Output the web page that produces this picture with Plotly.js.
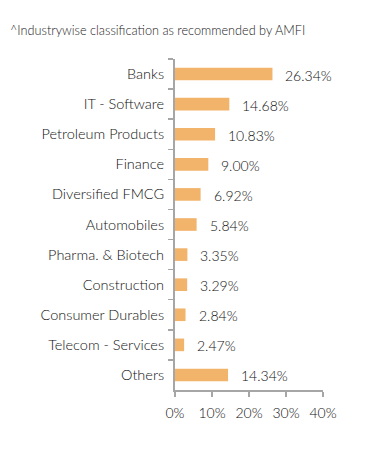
<!DOCTYPE html>
<html>
<head>
<meta charset="utf-8">
<script src="https://cdn.plot.ly/plotly-3.0.1.min.js"></script>
<style>html,body{margin:0;padding:0;background:#fff;}#chart{width:391px;height:461px;}</style>
</head>
<body>
<div id="chart"></div>
<script>
const categories = ["Banks","IT - Software","Petroleum Products","Finance","Diversified FMCG","Automobiles","Pharma. & Biotech","Construction","Consumer Durables","Telecom - Services","Others"];
const values = [26.34,14.68,10.83,9.00,6.92,5.84,3.35,3.29,2.84,2.47,14.34];
const xTickVals = [0,10,20,30,40];
const xTickText = ["0%","10%","20%","30%","40%"];
const noteText = "^Industrywise classification as recommended by AMFI";

const fontFam = "Lato, 'Open Sans', sans-serif";
const txtColor = "#111";
const trace = {
  type: "bar", orientation: "h",
  x: values, y: categories,
  marker: {color: "#F2B36B"},
  width: 0.42,
  hoverinfo: "none"
};
const annotations = values.map((v,i)=>({
  x: v, y: categories[i], xref: "x", yref: "y",
  text: v.toFixed(2) + "%", showarrow: false,
  xanchor: "left", xshift: 11, yshift: -1,
  font: {family: fontFam, size: 14, color: txtColor, weight: 300}
}));
annotations.push({
  text: noteText, xref: "paper", yref: "paper", x: -167/148, y: 1 + 29/331,
  xanchor: "left", yanchor: "middle", showarrow: false,
  font: {family: fontFam, size: 12.7, color: "#222", weight: 300}
});
const layout = {
  width: 391, height: 461,
  margin: {l: 175, r: 68, t: 59, b: 71},
  paper_bgcolor: "#fff", plot_bgcolor: "#fff",
  showlegend: false,
  font: {family: fontFam, color: txtColor, size: 13},
  xaxis: {
    range: [0, 40], tickvals: xTickVals, ticktext: xTickText,
    showgrid: false, zeroline: false, showline: true, linecolor: "#A6A6A6", linewidth: 2,
    ticks: "outside", ticklen: 5, tickcolor: "#A6A6A6", tickwidth: 1.5,
    ticklabelstandoff: 4,
    tickfont: {family: fontFam, size: 14, color: txtColor, weight: 300}, fixedrange: true
  },
  yaxis: {
    categoryorder: "array", categoryarray: categories, autorange: "reversed",
    showgrid: false, zeroline: false, showline: true, linecolor: "#A6A6A6", linewidth: 2,
    ticks: "outside", ticklen: 5, tickcolor: "#A6A6A6", tickwidth: 1.5,
    tickson: "boundaries", ticklabelstandoff: 6,
    tickfont: {family: fontFam, size: 14.5, color: txtColor, weight: 300}, fixedrange: true
  },
  annotations: annotations
};
Plotly.newPlot("chart", [trace], layout, {displayModeBar: false, staticPlot: true});
</script>
</body>
</html>
